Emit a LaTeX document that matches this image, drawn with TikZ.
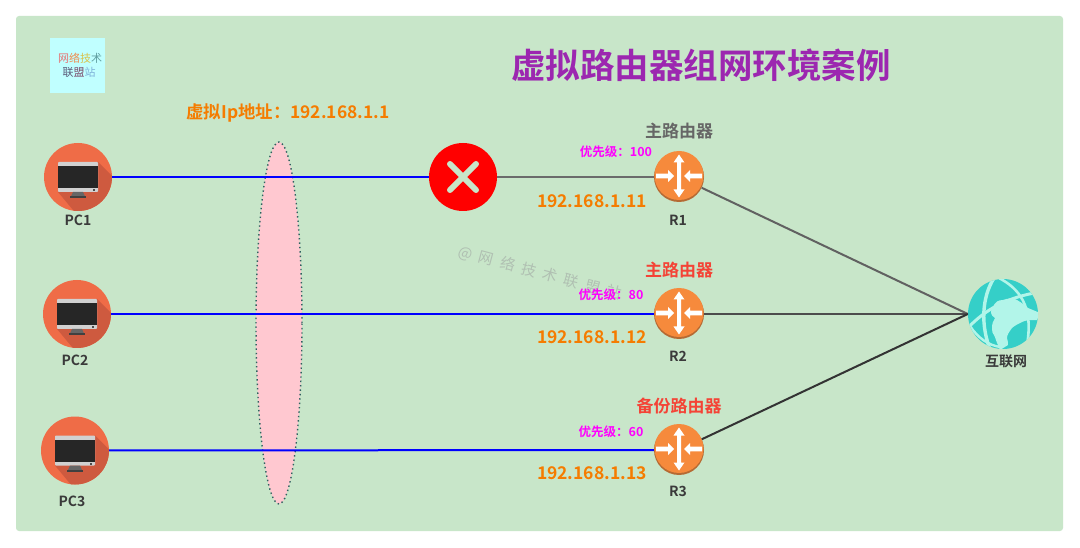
\documentclass[tikz,border=0pt]{standalone}
\usepackage{fontspec}
\setmainfont{Noto Sans CJK SC}[BoldFont={* Bold}]
\newfontfamily\bfcjk{Noto Sans CJK SC Bold}
\usetikzlibrary{shapes.geometric}
\definecolor{panel}{HTML}{C8E6C9}
\definecolor{pcorange}{HTML}{EF6C47}
\definecolor{pcshadow}{HTML}{CE5A3F}
\definecolor{rorange}{HTML}{F68A3C}
\definecolor{rdark}{HTML}{B56A33}
\definecolor{teal1}{HTML}{35CFC8}
\definecolor{teal2}{HTML}{B2F5E9}
\definecolor{ipor}{HTML}{F57C00}
\definecolor{titlep}{HTML}{9C27B0}
\definecolor{redt}{HTML}{F44336}
\definecolor{greyt}{HTML}{666666}
\definecolor{labelc}{HTML}{3A3A3A}
\definecolor{wm}{HTML}{B0C0B2}
\definecolor{magentat}{HTML}{FF00FF}
\definecolor{pinkfill}{HTML}{FFC8D0}
\definecolor{dotc}{HTML}{2F6060}
\definecolor{logobg}{HTML}{C0FFFF}
\definecolor{lgA}{HTML}{E57373}
\definecolor{lgB}{HTML}{F08A4B}
\definecolor{lgC}{HTML}{D9C24A}
\definecolor{lgD}{HTML}{5F9EA0}
\definecolor{lgE}{HTML}{5A5A78}
\definecolor{lgF}{HTML}{7A4A6A}
\definecolor{lgG}{HTML}{7FB2D9}
\tikzset{
 x=1pt,y=-1pt,
 lab/.style={font=\bfcjk\fontsize{14}{14}\selectfont,text=labelc,inner sep=0pt},
 ipl/.style={font=\bfcjk\fontsize{17.5}{18}\selectfont,text=ipor,inner sep=0pt},
 role/.style={font=\bfcjk\fontsize{17}{17}\selectfont,inner sep=0pt},
 prio/.style={font=\bfcjk\fontsize{12.5}{13}\selectfont,text=magentat,inner sep=0pt},
 pcbody/.style={circle,fill=pcorange,minimum size=68pt,inner sep=0pt},
 rbody/.style={circle,minimum size=50pt,inner sep=0pt},
 link/.style={line width=2pt},
 blue link/.style={link,draw=blue},
 logotext/.style={inner sep=0pt,font=\fontsize{11}{11}\selectfont},
 pcicon/.pic={
  \begin{scope}
   \clip (0,0) circle (34);
   \fill[pcshadow] (20,-15) -- (70,35) -- (30,75) -- (-20,15) -- cycle;
  \end{scope}
  \fill[black!18!white,rounded corners=.8pt] (-20,-15) rectangle (20,15);
  \fill[black!85!white] (-20,-11) rectangle (20,11);
  \fill[black!70!white] (15,12.3) rectangle (17,14);
  \fill[gray!80!black] (-5,15) -- (5,15) -- (7,19.5) -- (-7,19.5) -- cycle;
  \fill[black!75!white] (-8,19) rectangle (8,21);
 },
 routericon/.pic={
  \fill[rdark] (0,0) circle (25);
  \fill[rorange] (0,-1.5) circle (24.5);
  \fill[white] (0,-22.5) -- (5.5,-14.5) -- (2,-14.5) -- (2,12.5) -- (5.5,12.5) -- (0,20.5) -- (-5.5,12.5) -- (-2,12.5) -- (-2,-14.5) -- (-5.5,-14.5) -- cycle;
  \fill[white] (-5,-1) -- (-11,-7) -- (-11,-3.4) -- (-23,-3.4) -- (-23,1.4) -- (-11,1.4) -- (-11,5) -- cycle;
  \fill[white] (5,-1) -- (11,-7) -- (11,-3.4) -- (23,-3.4) -- (23,1.4) -- (11,1.4) -- (11,5) -- cycle;
 },
}
\begin{document}
\begin{tikzpicture}
\useasboundingbox (0,0) rectangle (1080,548);
\fill[white] (0,0) rectangle (1080,548);
\fill[panel,rounded corners=3pt] (16,16) rectangle (1063,531);

% logo
\node[fill=logobg,minimum size=55pt,inner sep=0pt] (logo) at (77.5,65.5) {};
\node[logotext] (logoa) at (80,58.5) {\textcolor{lgA}{网}\textcolor{lgB}{络}\textcolor{lgC}{技}\textcolor{lgD}{术}};
\node[logotext] (logob) at (79,72.5) {\textcolor{lgE}{联}\textcolor{lgF}{盟}\textcolor{lgG}{站}};

% title
\node[inner sep=0pt,font=\bfcjk\fontsize{34.5}{35}\selectfont,text=titlep] (title) at (701,65) {虚拟路由器组网环境案例};
\node[ipl,font=\bfcjk\fontsize{17.4}{18}\selectfont] (viplabel) at (288,113) {虚拟Ip地址：192.168.1.1};

% virtual ip ellipse
\node[ellipse,draw=dotc,dash pattern=on 1.4pt off 3pt,line width=1.4pt,fill=pinkfill,minimum width=46pt,minimum height=362pt,inner sep=0pt] (vip) at (279,323) {};

% watermark
\node[inner sep=0pt,rotate=-15,text=wm,font=\fontsize{15}{15}\selectfont] (wmk) at (540,273) {@\hspace{7pt}网\hspace{7pt}络\hspace{7pt}技\hspace{7pt}术\hspace{7pt}联\hspace{7pt}盟\hspace{7pt}站};

% nodes
\node[pcbody] (pc1) at (78,177) {};
\node[pcbody] (pc2) at (77,314) {};
\node[pcbody] (pc3) at (75,450.5) {};
\pic at (pc1) {pcicon};
\pic at (pc2) {pcicon};
\pic at (pc3) {pcicon};
\node[circle,fill=red,minimum size=68pt,inner sep=0pt] (x1) at (463,177) {};
\draw[panel,line width=6pt,line cap=round] (450,164) -- (476,190) (476,164) -- (450,190);
\node[rbody] (r1) at (679,177) {};
\node[rbody] (r2) at (679,314) {};
\node[rbody] (r3) at (679,450) {};
\pic at (r1) {routericon};
\pic at (r2) {routericon};
\pic at (r3) {routericon};

% globe
\node[circle,fill=teal1,minimum size=70pt,inner sep=0pt] (net) at (1003,314) {};
\begin{scope}
 \clip (1003,314) circle (35);
 \fill[teal2] (993,307) .. controls (995,302) and (998,300) .. (1003,300) .. controls (1008,298) and (1014,298) .. (1017,300) .. controls (1022,303) and (1026,306) .. (1028,308) -- (1040,313) -- (1037,320) .. controls (1030,320) and (1026,320) .. (1022,322) .. controls (1018,324) and (1014,326) .. (1012,328) .. controls (1009,332) and (1007,335) .. (1007,338) .. controls (1007,341) and (1009,343) .. (1008,345) -- (1000,350) .. controls (998,345) and (996,341) .. (995,337) .. controls (993,333) and (991,331) .. (992,328) .. controls (992,324) and (993,321) .. (995,318) .. controls (990,315) and (990,311) .. (993,307) -- cycle;
 \draw[teal2,line width=3pt] (966,330) .. controls (985,309) and (1008,297) .. (1040,292);
 \draw[teal2,line width=3.4pt] (994,278) .. controls (982,297) and (980,325) .. (991,352);
 \draw[teal2,line width=2.6pt] (999,278) .. controls (1018,288) and (1034,305) .. (1027,345);
 \draw[teal2,line width=2.4pt] (970,326) .. controls (978,338) and (988,345) .. (1000,347);
\end{scope}

% connectors
\draw[blue link] (pc1) -- (x1);
\draw[blue link] (pc2) -- (r2);
\draw[blue link] (pc3) -- (r3);
\draw[link,draw=black!58] (x1) -- (r1);
\draw[link,draw=black!62] (r1) -- (net.west);
\draw[link,draw=black!70] (r2) -- (net.west);
\draw[link,draw=black!80] (r3) -- (net.west);

% labels
\node[lab] (lpc1) at (78,220) {PC1};
\node[lab] (lpc2) at (75,360) {PC2};
\node[lab] (lpc3) at (72,501) {PC3};
\node[lab] (lr1) at (678,220) {R1};
\node[lab] (lr2) at (678,356) {R2};
\node[lab] (lr3) at (678,491) {R3};
\node[lab] (lnet) at (1006,361) {互联网};
\node[role,text=greyt] (role1) at (679,131) {主路由器};
\node[role,text=redt] (role2) at (679,270) {主路由器};
\node[role,text=redt] (role3) at (679,406) {备份路由器};
\node[prio] (p1) at (616,152) {优先级：100};
\node[prio] (p2) at (611,295) {优先级：80};
\node[prio] (p3) at (611,432) {优先级：60};
\node[ipl] (ip1) at (592,201) {192.168.1.11};
\node[ipl] (ip2) at (592,337) {192.168.1.12};
\node[ipl] (ip3) at (592,473) {192.168.1.13};
\end{tikzpicture}
\end{document}
